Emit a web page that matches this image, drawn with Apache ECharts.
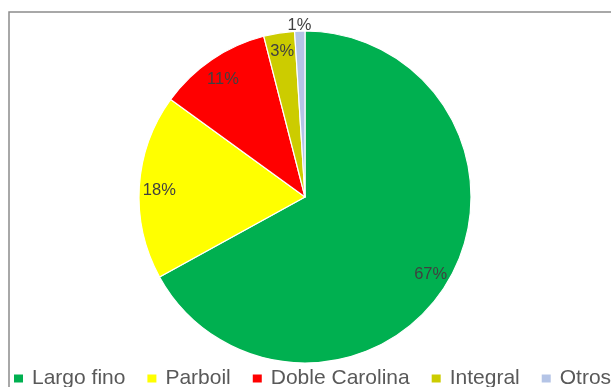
<!DOCTYPE html>
<html>
<head>
<meta charset="utf-8">
<script src="https://cdn.jsdelivr.net/npm/echarts@6/dist/echarts.min.js"></script>
<style>
  html, body { margin: 0; padding: 0; background: #fff; }
  #chart { width: 611px; height: 387px; }
</style>
</head>
<body>
<div id="chart"></div>
<script>
// datos de la torta
var categorias = ['Largo fino', 'Parboil', 'Doble Carolina', 'Integral', 'Otros'];
var valores = [67, 18, 11, 3, 1];
var colores = ['#00B050', '#FFFF00', '#FF0000', '#CCCC00', '#B4C4E6'];

var myChart = echarts.init(document.getElementById('chart'));

var datos = categorias.map(function (c, i) {
  return { name: c, value: valores[i], itemStyle: { color: colores[i] } };
});

// series transparentes solo para ubicar las etiquetas
var etiquetas = categorias.map(function (c, i) {
  var lbl = { show: i < 4 };
  if (i === 3) lbl.offset = [0, -1]; // la etiqueta de Integral va un poco mas arriba
  return { name: c, value: valores[i], label: lbl };
});
var etiquetaOtros = categorias.map(function (c, i) {
  return { name: c, value: valores[i], label: { show: i === 4 } };
});

var labelStyle = {
  position: 'inside',
  formatter: '{d}%',
  color: '#404040',
  fontFamily: 'Liberation Sans, Arial, sans-serif',
  fontSize: 16.5,
  offset: [0, 3]
};

var option = {
  animation: false,
  graphic: [{
    type: 'rect',
    shape: { x: 9, y: 12, width: 700, height: 500 },
    style: { fill: 'none', stroke: '#8c8c8c', lineWidth: 1.5 },
    silent: true
  }],
  legend: {
    data: categorias,
    left: 12,
    top: 368,
    width: 800,
    padding: 0,
    itemWidth: 11,
    itemHeight: 10,
    itemGap: 20,
    icon: 'rect',
    textStyle: {
      color: '#595959',
      fontFamily: 'Liberation Sans, Arial, sans-serif',
      fontSize: 21,
      padding: [0, 0, 0, 3]
    }
  },
  series: [{
    type: 'pie',
    center: [305, 197],
    radius: [0, 166],
    startAngle: 90,
    clockwise: true,
    label: { show: false },
    labelLine: { show: false },
    itemStyle: { borderColor: '#fff', borderWidth: 1.2 },
    emphasis: { disabled: true },
    data: datos
  }, {
    type: 'pie',
    center: [305, 197],
    radius: [0, 286],
    startAngle: 90,
    silent: true,
    legendHoverLink: false,
    itemStyle: { color: 'rgba(0,0,0,0)', borderWidth: 0 },
    label: labelStyle,
    labelLine: { show: false },
    data: etiquetas,
    z: 3
  }, {
    type: 'pie',
    center: [305, 197],
    radius: [0, 344],
    startAngle: 90,
    silent: true,
    legendHoverLink: false,
    itemStyle: { color: 'rgba(0,0,0,0)', borderWidth: 0 },
    label: labelStyle,
    labelLine: { show: false },
    data: etiquetaOtros,
    z: 3
  }]
};
myChart.setOption(option);
</script>
</body>
</html>
